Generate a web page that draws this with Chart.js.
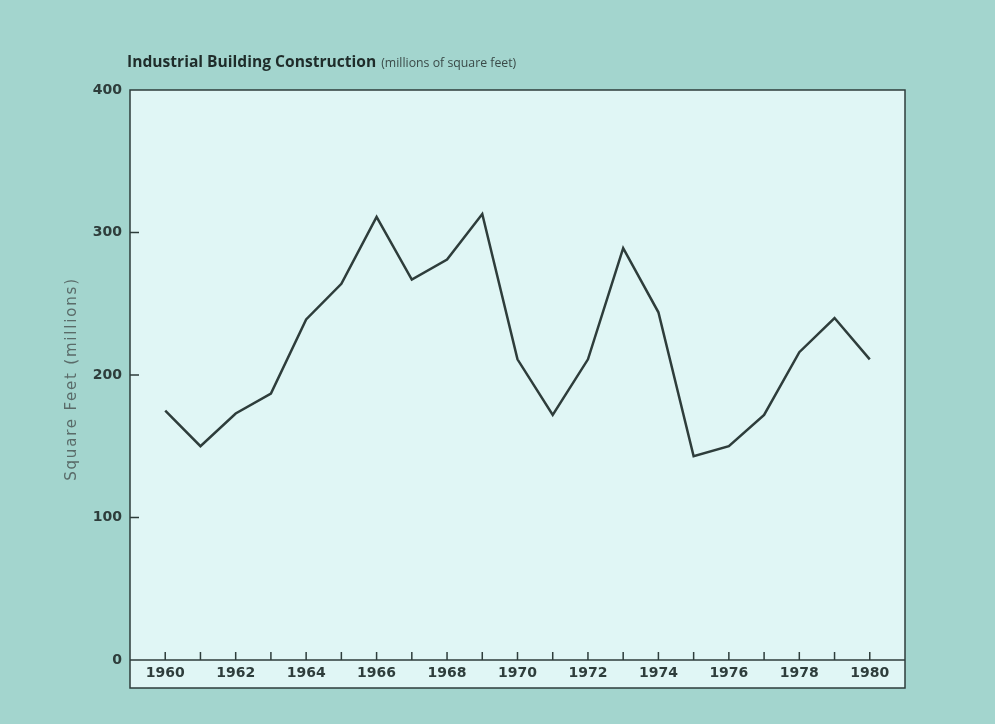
<!DOCTYPE html>
<html>
<head>
  <title>Industrial Building Construction</title>
  <script src="https://cdn.jsdelivr.net/npm/chart.js"></script>
  <style>
    body {
      margin: 0;
      background: #a3d5ce;
    }
  </style>
</head>
<body>
<canvas id="chart" width="995" height="724"></canvas>

<script>
  // values (millions of square feet)
  var years = [1960, 1961, 1962, 1963, 1964, 1965, 1966, 1967, 1968, 1969, 1970,
               1971, 1972, 1973, 1974, 1975, 1976, 1977, 1978, 1979, 1980];
  var squareFeet = [175, 150, 173, 187, 239, 264, 311, 267, 281, 313, 211,
                    172, 211, 289, 244, 143, 150, 172, 216, 240, 211];
  var yearLabels = [1960, 1962, 1964, 1966, 1968, 1970, 1972, 1974, 1976, 1978, 1980];
  var yTicks = [0, 100, 200, 300, 400];

  var ink = '#2e3d3b';
  var paper = '#e0f6f5';

  // box round the plot, tick marks inside, titles
  var frame = {
    id: 'frame',
    beforeDraw: function (chart) {
      var c = chart.ctx, a = chart.chartArea;
      c.save();
      c.fillStyle = paper;
      c.fillRect(a.left, a.top, a.right - a.left, 688 - a.top);
      c.restore();
    },
    afterDraw: function (chart) {
      var c = chart.ctx, a = chart.chartArea;
      var x = chart.scales.x, y = chart.scales.y;
      c.save();
      c.strokeStyle = ink;
      c.lineWidth = 1.5;
      c.strokeRect(a.left, a.top, a.right - a.left, 688 - a.top);
      var y0 = y.getPixelForValue(0);
      c.beginPath();
      c.moveTo(a.left, y0);
      c.lineTo(a.right, y0);
      years.forEach(function (yr) {
        var px = x.getPixelForValue(yr);
        c.moveTo(px, y0);
        c.lineTo(px, y0 - 8);
      });
      yTicks.slice(1, -1).forEach(function (v) {
        var py = y.getPixelForValue(v);
        c.moveTo(a.left, py);
        c.lineTo(a.left + 9, py);
      });
      c.stroke();

      // title
      c.fillStyle = '#1f2c2a';
      c.textBaseline = 'alphabetic';
      c.font = 'bold 15.6px "Open Sans"';
      var t = 'Industrial Building Construction';
      c.fillText(t, 127, 67);
      var w = c.measureText(t).width;
      c.font = '12.3px "Open Sans"';
      c.fillStyle = '#3a4a48';
      c.fillText('(millions of square feet)', 127 + w + 5, 67);

      // y axis title
      c.translate(72, 379);
      c.rotate(-Math.PI / 2);
      c.textAlign = 'center';
      c.textBaseline = 'middle';
      c.font = '15px "DejaVu Sans"';
      c.letterSpacing = '1.8px';
      c.fillStyle = '#5a6b69';
      c.fillText('Square Feet (millions)', 0, 0);
      c.restore();
    }
  };

  var ctx = document.getElementById('chart').getContext('2d');
  var chart = new Chart(ctx, {
    type: 'line',
    data: {
      datasets: [{
        label: 'Industrial Building Construction',
        data: years.map(function (yr, i) { return { x: yr, y: squareFeet[i] }; }),
        borderColor: ink,
        borderWidth: 2.5,
        pointRadius: 0,
        tension: 0,
        fill: false
      }]
    },
    options: {
      responsive: false,
      animation: false,
      layout: {
        padding: { top: 90, right: 90, left: 0, bottom: 0 }
      },
      plugins: {
        legend: { display: false },
        tooltip: { enabled: false }
      },
      scales: {
        x: {
          type: 'linear',
          min: 1959,
          max: 1981,
          grid: { display: false, drawTicks: false },
          border: { display: false },
          afterBuildTicks: function (scale) {
            scale.ticks = yearLabels.map(function (v) { return { value: v }; });
          },
          afterFit: function (scale) { scale.height = 64; },
          ticks: {
            padding: 5,
            maxRotation: 0,
            autoSkip: false,
            color: ink,
            font: { family: 'DejaVu Sans', size: 14, weight: 'bold' },
            callback: function (v) { return String(v); }
          }
        },
        y: {
          min: 0,
          max: 400,
          grid: { display: false, drawTicks: false },
          border: { display: false },
          afterBuildTicks: function (scale) {
            scale.ticks = yTicks.map(function (v) { return { value: v }; });
          },
          afterFit: function (scale) { scale.width = 130; },
          ticks: {
            padding: 8,
            color: ink,
            font: { family: 'DejaVu Sans', size: 14, weight: 'bold' }
          }
        }
      }
    },
    plugins: [frame]
  });
</script>
</body>
</html>
